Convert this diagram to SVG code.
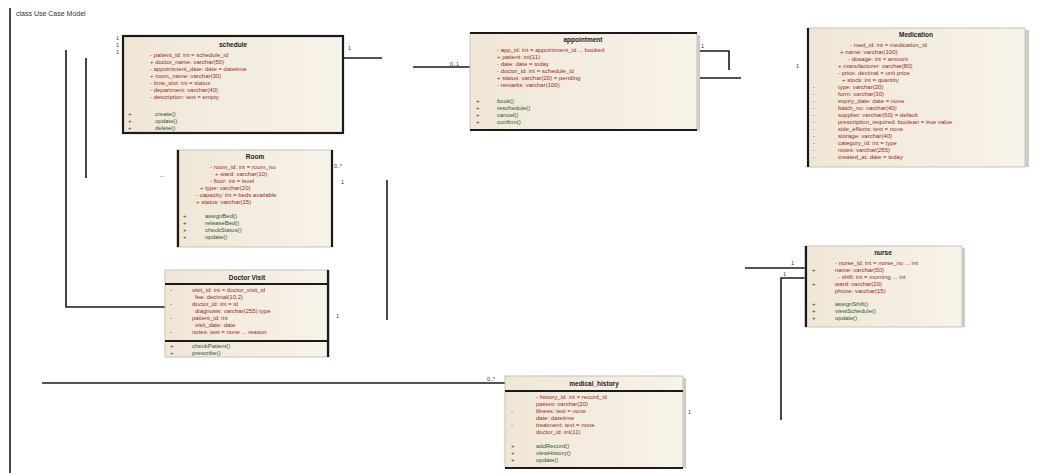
<svg xmlns="http://www.w3.org/2000/svg" width="1048" height="473" viewBox="0 0 1048 473">
<defs>
<linearGradient id="bg" x1="0" y1="0" x2="1" y2="0">
<stop offset="0" stop-color="#efe6d6"/><stop offset="1" stop-color="#f8f3ea"/>
</linearGradient>
<style>
text{font-family:"Liberation Sans",Arial,sans-serif;font-size:6px}
.nm{font-weight:bold;fill:#222;text-anchor:middle;font-size:6.5px}
.at{fill:#9a2b24}
.op{fill:#2f5a2c}
.vs{fill:#333}
.box{fill:url(#bg);stroke:#c8c2b8;stroke-width:1}
.sh{fill:#cfcac2}
.th{stroke:#1a1a1a;stroke-width:2.2;fill:none}
.ln{stroke:#1a1a1a;stroke-width:1.6;fill:none}
.lb{fill:#333;font-size:5.5px}
.title{fill:#333;font-size:7px}
</style>
</defs>
<rect width="1048" height="473" fill="#ffffff"/>
<line x1="10" y1="8" x2="10" y2="473" class="ln"/>
<text x="16" y="16" class="title">class Use Case Model</text>

<g id="connectors">
<polyline class="ln" points="343,58 382,58"/>
<polyline class="ln" points="413,67 470,67"/>
<polyline class="ln" points="697,51 729,51 729,70"/>
<polyline class="ln" points="697,78 741,78"/>
<polyline class="ln" points="66,50 66,307 165,307"/>
<polyline class="ln" points="86,58 86,178"/>
<polyline class="ln" points="387,180 387,320"/>
<polyline class="ln" points="42,383 505,383"/>
<polyline class="ln" points="745,268 805,268"/>
<polyline class="ln" points="781,420 781,278 805,278"/>
<text x="116" y="40" class="lb">1</text><text x="116" y="47" class="lb">1</text><text x="116" y="54" class="lb">1</text>
<text x="348" y="50" class="lb">1</text>
<text x="450" y="66" class="lb">0..1</text>
<text x="701" y="48" class="lb">1</text>
<text x="796" y="68" class="lb">1</text>
<text x="160" y="177" class="lb">...</text>
<text x="334" y="168" class="lb">0..*</text>
<text x="341" y="184" class="lb">1</text>
<text x="336" y="318" class="lb">1</text>
<text x="487" y="381" class="lb">0..*</text>
<text x="791" y="265" class="lb">1</text>
<text x="783" y="276" class="lb">1</text>
<text x="688" y="414" class="lb">1</text>
</g>

<g id="schedule">
<rect x="123" y="36" width="220" height="97" class="box"/>
<rect x="123" y="36" width="220" height="97" class="th"/>
<text x="233" y="47" class="nm">schedule</text>
<text x="150" y="57" class="at">- patient_id: int = schedule_id</text>
<text x="150" y="64" class="at">+ doctor_name: varchar(50)</text>
<text x="150" y="71" class="at">- appointment_date: date = datetime</text>
<text x="150" y="78" class="at">+ room_name: varchar(30)</text>
<text x="150" y="85" class="at">- time_slot: int = status</text>
<text x="150" y="92" class="at">- department: varchar(40)</text>
<text x="150" y="99" class="at">- description: text = empty</text>
<text x="128" y="116" class="vs">+</text><text x="155" y="116" class="op">create()</text>
<text x="128" y="123" class="vs">+</text><text x="155" y="123" class="op">update()</text>
<text x="128" y="130" class="vs">+</text><text x="155" y="130" class="op">delete()</text>
</g>

<g id="appointment">
<rect x="470" y="33" width="227" height="97" class="box"/>
<rect x="697" y="35" width="3" height="96" class="sh"/>
<line x1="470" y1="33" x2="697" y2="33" class="th"/>
<line x1="470" y1="130" x2="697" y2="130" class="th"/>
<text x="583" y="42" class="nm">appointment</text>
<text x="497" y="52" class="at">- app_id: int = appointment_id ... booked</text>
<text x="497" y="59" class="at">+ patient: int(11)</text>
<text x="497" y="66" class="at">- date: date = today</text>
<text x="497" y="73" class="at">- doctor_id: int = schedule_id</text>
<text x="497" y="80" class="at">+ status: varchar(20) = pending</text>
<text x="497" y="87" class="at">- remarks: varchar(100)</text>
<text x="476" y="103" class="vs">+</text><text x="497" y="103" class="op">book()</text>
<text x="476" y="110" class="vs">+</text><text x="497" y="110" class="op">reschedule()</text>
<text x="476" y="117" class="vs">+</text><text x="497" y="117" class="op">cancel()</text>
<text x="476" y="124" class="vs">+</text><text x="497" y="124" class="op">confirm()</text>
</g>

<g id="medication">
<rect x="808" y="28" width="217" height="139" class="box"/>
<rect x="1025" y="30" width="4" height="137" class="sh"/>
<line x1="808" y1="28" x2="808" y2="167" class="th"/>
<text x="916" y="37" class="nm">Medication</text>
<text x="850" y="47" class="at">- med_id: int = medication_id</text>
<text x="840" y="54" class="at">+ name: varchar(100)</text>
<text x="848" y="61" class="at">- dosage: int = amount</text>
<text x="838" y="68" class="at">+ manufacturer: varchar(80)</text>
<text x="838" y="75" class="at">- price: decimal = unit price</text>
<text x="842" y="82" class="at">+ stock: int = quantity</text>
<text x="813" y="89" class="vs">-</text><text x="838" y="89" class="at">type: varchar(20)</text>
<text x="813" y="96" class="vs">-</text><text x="838" y="96" class="at">form: varchar(30)</text>
<text x="813" y="103" class="vs">-</text><text x="838" y="103" class="at">expiry_date: date = none</text>
<text x="813" y="110" class="vs">-</text><text x="838" y="110" class="at">batch_no: varchar(40)</text>
<text x="813" y="117" class="vs">-</text><text x="838" y="117" class="at">supplier: varchar(60) = default</text>
<text x="813" y="124" class="vs">-</text><text x="838" y="124" class="at">prescription_required: boolean = true value</text>
<text x="813" y="131" class="vs">-</text><text x="838" y="131" class="at">side_effects: text = none</text>
<text x="813" y="138" class="vs">-</text><text x="838" y="138" class="at">storage: varchar(40)</text>
<text x="813" y="145" class="vs">-</text><text x="838" y="145" class="at">category_id: int = type</text>
<text x="813" y="152" class="vs">-</text><text x="838" y="152" class="at">notes: varchar(255)</text>
<text x="813" y="159" class="vs">-</text><text x="838" y="159" class="at">created_at: date = today</text>
</g>

<g id="room">
<rect x="177" y="150" width="155" height="97" class="box"/>
<line x1="178" y1="150" x2="178" y2="247" class="th"/>
<line x1="332" y1="150" x2="332" y2="247" class="th"/>
<text x="255" y="159" class="nm">Room</text>
<text x="210" y="169" class="at">- room_id: int = room_no</text>
<text x="215" y="176" class="at">+ ward: varchar(10)</text>
<text x="210" y="183" class="at">- floor: int = level</text>
<text x="200" y="190" class="at">+ type: varchar(20)</text>
<text x="196" y="197" class="at">- capacity: int = beds available</text>
<text x="196" y="204" class="at">+ status: varchar(15)</text>
<text x="183" y="218" class="vs">+</text><text x="205" y="218" class="op">assignBed()</text>
<text x="183" y="225" class="vs">+</text><text x="205" y="225" class="op">releaseBed()</text>
<text x="183" y="232" class="vs">+</text><text x="205" y="232" class="op">checkStatus()</text>
<text x="183" y="239" class="vs">+</text><text x="205" y="239" class="op">update()</text>
</g>

<g id="doctor_visit">
<rect x="165" y="270" width="164" height="87" class="box"/>
<line x1="165" y1="284" x2="329" y2="284" class="th"/>
<line x1="165" y1="341" x2="329" y2="341" class="th"/>
<line x1="328" y1="270" x2="328" y2="357" class="th"/>
<text x="247" y="280" class="nm">Doctor Visit</text>
<text x="170" y="292" class="vs">-</text><text x="192" y="292" class="at">visit_id: int = doctor_visit_id</text>
<text x="195" y="299" class="at">fee: decimal(10,2)</text>
<text x="170" y="306" class="vs">-</text><text x="192" y="306" class="at">doctor_id: int = id</text>
<text x="195" y="313" class="at">diagnosis: varchar(255) type</text>
<text x="170" y="320" class="vs">-</text><text x="192" y="320" class="at">patient_id: int</text>
<text x="195" y="327" class="at">visit_date: date</text>
<text x="170" y="334" class="vs">-</text><text x="192" y="334" class="at">notes: text = none ... reason</text>
<text x="170" y="348" class="vs">+</text><text x="192" y="348" class="op">checkPatient()</text>
<text x="170" y="355" class="vs">+</text><text x="192" y="355" class="op">prescribe()</text>
</g>

<g id="nurse">
<rect x="805" y="246" width="157" height="81" class="box"/>
<rect x="962" y="248" width="3" height="79" class="sh"/>
<line x1="806" y1="246" x2="806" y2="327" class="th"/>
<text x="883" y="255" class="nm">nurse</text>
<text x="835" y="265" class="at">- nurse_id: int = nurse_no ... int</text>
<text x="812" y="272" class="vs">+</text><text x="835" y="272" class="at">name: varchar(50)</text>
<text x="838" y="279" class="at">- shift: int = morning ... int</text>
<text x="812" y="286" class="vs">+</text><text x="835" y="286" class="at">ward: varchar(20)</text>
<text x="835" y="293" class="at">phone: varchar(15)</text>
<text x="812" y="306" class="vs">+</text><text x="835" y="306" class="op">assignShift()</text>
<text x="812" y="313" class="vs">+</text><text x="835" y="313" class="op">viewSchedule()</text>
<text x="812" y="320" class="vs">+</text><text x="835" y="320" class="op">update()</text>
</g>

<g id="medical_history">
<rect x="505" y="376" width="178" height="92" class="box"/>
<rect x="683" y="378" width="3" height="90" class="sh"/>
<line x1="505" y1="391" x2="683" y2="391" class="th"/>
<line x1="505" y1="468" x2="683" y2="468" class="th"/>
<text x="594" y="386" class="nm">medical_history</text>
<text x="536" y="399" class="at">- history_id: int = record_id</text>
<text x="536" y="406" class="at">patient: varchar(20)</text>
<text x="511" y="413" class="vs">-</text><text x="536" y="413" class="at">illness: text = none</text>
<text x="536" y="420" class="at">date: datetime</text>
<text x="511" y="427" class="vs">-</text><text x="536" y="427" class="at">treatment: text = none</text>
<text x="536" y="434" class="at">doctor_id: int(11)</text>
<text x="511" y="448" class="vs">+</text><text x="536" y="448" class="op">addRecord()</text>
<text x="511" y="455" class="vs">+</text><text x="536" y="455" class="op">viewHistory()</text>
<text x="511" y="462" class="vs">+</text><text x="536" y="462" class="op">update()</text>
</g>
</svg>
